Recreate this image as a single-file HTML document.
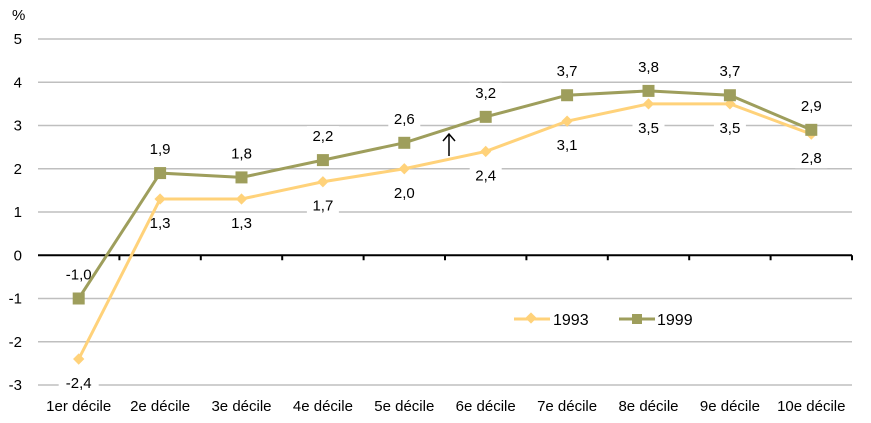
<!DOCTYPE html>
<html><head><meta charset="utf-8"><style>
body{margin:0;background:#fff}
svg{font-family:"Liberation Sans",sans-serif;font-size:15px}
</style></head><body>
<svg width="871" height="418">
<g id="grid"></g><g id="labels"></g><g id="axes"></g><g id="series"></g>
<g stroke="#000" stroke-width="1.5" fill="none">
<line x1="449" y1="156" x2="449" y2="134"/><polyline points="443,141 449,134 455,141"/></g>
<g>
<g><line x1="514" y1="319" x2="550" y2="319" stroke="#FFD27A" stroke-width="3"/><rect x="527" y="314" width="8" height="8" fill="#FFD27A" transform="rotate(45 531 318)"/><text x="553" y="325" font-size="16">1993</text></g>
<g><line x1="619" y1="319" x2="655" y2="319" stroke="#9E9E5C" stroke-width="3"/><rect x="632" y="314" width="10" height="10" fill="#9E9E5C"/><text x="657" y="325" font-size="16">1999</text></g>
</g>
<text x="12" y="20">%</text>
</svg>
<script>
const categories=["1er décile","2e décile","3e décile","4e décile","5e décile","6e décile","7e décile","8e décile","9e décile","10e décile"];
const s1993=[-2.4,1.3,1.3,1.7,2.0,2.4,3.1,3.5,3.5,2.8];
const s1999=[-1.0,1.9,1.8,2.2,2.6,3.2,3.7,3.8,3.7,2.9];
const yTicks=[5,4,3,2,1,0,-1,-2,-3];
const NS="http://www.w3.org/2000/svg";
const L=38,R=852,T=39,B=385,yMax=5,yMin=-3;
const y=v=>T+(yMax-v)/(yMax-yMin)*(B-T);
const bw=(R-L)/categories.length;
const x=i=>L+bw*(i+0.5);
function mk(p,tag,a){const e=document.createElementNS(NS,tag);for(const k in a)e.setAttribute(k,a[k]);p.appendChild(e);return e;}
const grid=document.getElementById('grid'),axes=document.getElementById('axes'),ser=document.getElementById('series'),lab=document.getElementById('labels');
yTicks.forEach(v=>{
 if(v!==0){const g=mk(grid,'line',{x1:L,x2:R,y1:y(v),y2:y(v),stroke:'#BFBFBF','stroke-width':1.5});
 
 }
 const t=mk(axes,'text',{x:22,y:y(v)+5,'text-anchor':'end'});t.textContent=String(v);
 
 
});
const ax=mk(axes,'line',{x1:L,x2:R,y1:y(0),y2:y(0),stroke:'#000','stroke-width':2});


for(let i=1;i<=categories.length;i++){const tk=mk(axes,'line',{x1:L+bw*i,x2:L+bw*i,y1:y(0),y2:y(0)+5,stroke:'#000','stroke-width':2});
 
 }
categories.forEach((c,i)=>{const t=mk(axes,'text',{x:x(i),y:411,'text-anchor':'middle'});t.textContent=c;
 
 });
function fmt(v){return v.toFixed(1).replace('.',',');}
function label(v,i,dy){const tx=fmt(v);const w=tx.length*8+8;const cy=y(v)+dy;
 const r=mk(lab,'rect',{x:x(i)-w/2,y:cy-10,width:w,height:20,fill:'#fff'});
 
 
 const t=mk(lab,'text',{x:x(i),y:cy+5,'text-anchor':'middle'});t.textContent=tx;
 
 }
function series(data,color,marker,name,dy){
 const pl=mk(ser,'polyline',{points:data.map((v,i)=>x(i)+','+y(v)).join(' '),fill:'none',stroke:color,'stroke-width':3});
 
 
 data.forEach((v,i)=>{let m;
  if(marker==='sq')m=mk(ser,'rect',{x:x(i)-6,y:y(v)-6,width:12,height:12,fill:color});
  else m=mk(ser,'rect',{x:x(i)-4,y:y(v)-4,width:8,height:8,fill:color,transform:`rotate(45 ${x(i)} ${y(v)})`});
  
  
  label(v,i,dy);});
}
series(s1993,'#FFD27A','dia','series-1993',24);
series(s1999,'#9E9E5C','sq','series-1999',-24);
</script>
</body></html>
